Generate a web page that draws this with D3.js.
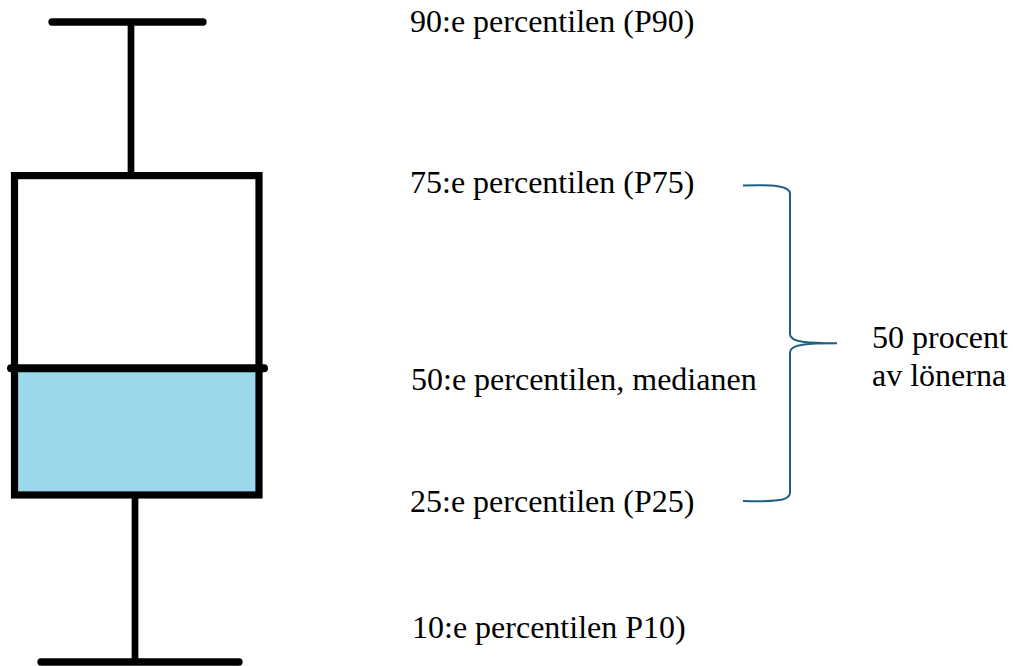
<!DOCTYPE html>
<html>
<head>
<meta charset="utf-8">
<script src="https://cdn.jsdelivr.net/npm/d3@7"></script>
<style>
  html, body { margin: 0; padding: 0; background: #fff; }
  svg { display: block; }
</style>
</head>
<body>
<svg id="chart" width="1013" height="666"></svg>
<script>
// ---- Data (relative salary scale) ----
const percentileKeys = ["P10", "P25", "P50", "P75", "P90"];
const percentileValues = [0, 26.1, 45.9, 76.0, 100];
const labelTexts = [
  "10:e percentilen P10)",
  "25:e percentilen (P25)",
  "50:e percentilen, medianen",
  "75:e percentilen (P75)",
  "90:e percentilen (P90)"
];
const braceLabel = ["50 procent", "av lönerna"];

(function () {
// ---- Layout ----
const svg = d3.select("#chart");
const y = d3.scaleLinear().domain([0, 100]).range([662, 22]);
const v = Object.fromEntries(percentileKeys.map((k, i) => [k, percentileValues[i]]));

const boxLeft = 14.5, boxRight = 259;
const fontFam = "Liberation Serif";

// box fill: lower half (P25 - P50) light blue
svg.append("rect")
  .attr("x", boxLeft).attr("y", y(v.P50))
  .attr("width", boxRight - boxLeft).attr("height", y(v.P25) - y(v.P50))
  .attr("fill", "#9bd8e9");

// upper whisker
svg.append("line")
  .attr("x1", 131).attr("x2", 131)
  .attr("y1", y(v.P90)).attr("y2", y(v.P75))
  .attr("stroke", "#000").attr("stroke-width", 6.7);
svg.append("line")
  .attr("x1", 52).attr("x2", 203)
  .attr("y1", y(v.P90)).attr("y2", y(v.P90))
  .attr("stroke", "#000").attr("stroke-width", 7.3).attr("stroke-linecap", "round");

// lower whisker
svg.append("line")
  .attr("x1", 135).attr("x2", 135)
  .attr("y1", y(v.P25)).attr("y2", y(v.P10))
  .attr("stroke", "#000").attr("stroke-width", 6.7);
svg.append("line")
  .attr("x1", 41).attr("x2", 239)
  .attr("y1", y(v.P10)).attr("y2", y(v.P10))
  .attr("stroke", "#000").attr("stroke-width", 7.3).attr("stroke-linecap", "round");

// box outline
svg.append("rect")
  .attr("x", boxLeft).attr("y", y(v.P75))
  .attr("width", boxRight - boxLeft).attr("height", y(v.P25) - y(v.P75))
  .attr("fill", "none").attr("stroke", "#000").attr("stroke-width", 7.2)
  .attr("stroke-linejoin", "miter");

// median line
svg.append("line")
  .attr("x1", 11).attr("x2", 264)
  .attr("y1", y(v.P50)).attr("y2", y(v.P50))
  .attr("stroke", "#000").attr("stroke-width", 8).attr("stroke-linecap", "round");

// labels
const labelDy = [-24, 17, 22, 17, 10];
const labelX = [412, 410, 411, 410, 410];
svg.selectAll("text.plabel")
  .data(percentileValues)
  .join("text")
  .attr("class", "plabel")
  .attr("x", (d, i) => labelX[i])
  .attr("y", (d, i) => y(d) + labelDy[i])
  .attr("font-family", fontFam)
  .attr("font-size", 32)
  .attr("fill", "#000")
  .text((d, i) => labelTexts[i]);

// brace
const bTop = y(v.P75) + 10, bBot = y(v.P25) + 6, bx = 790, ex = 743, tipX = 837;
const mid = (bTop + bBot) / 2;
const p = d3.path();
p.moveTo(ex, bTop);
p.bezierCurveTo(ex + 30, bTop - 1, bx, bTop, bx, bTop + 8);
p.lineTo(bx, mid - 9);
p.bezierCurveTo(bx, mid - 1, bx + 18, mid, tipX, mid);
p.bezierCurveTo(bx + 18, mid, bx, mid + 1, bx, mid + 9);
p.lineTo(bx, bBot - 8);
p.bezierCurveTo(bx, bBot, ex + 30, bBot + 1, ex, bBot);
svg.append("path")
  .attr("d", p.toString())
  .attr("fill", "none").attr("stroke", "#1f5f82").attr("stroke-width", 2);

// brace label
svg.append("text")
  .attr("x", 872).attr("y", mid + 5)
  .attr("font-family", fontFam)
  .attr("font-size", 32).attr("fill", "#000")
  .selectAll("tspan").data(braceLabel).join("tspan")
  .attr("x", 872).attr("dy", (d, i) => i === 0 ? 0 : 38)
  .text(d => d);
})();
</script>
</body>
</html>
